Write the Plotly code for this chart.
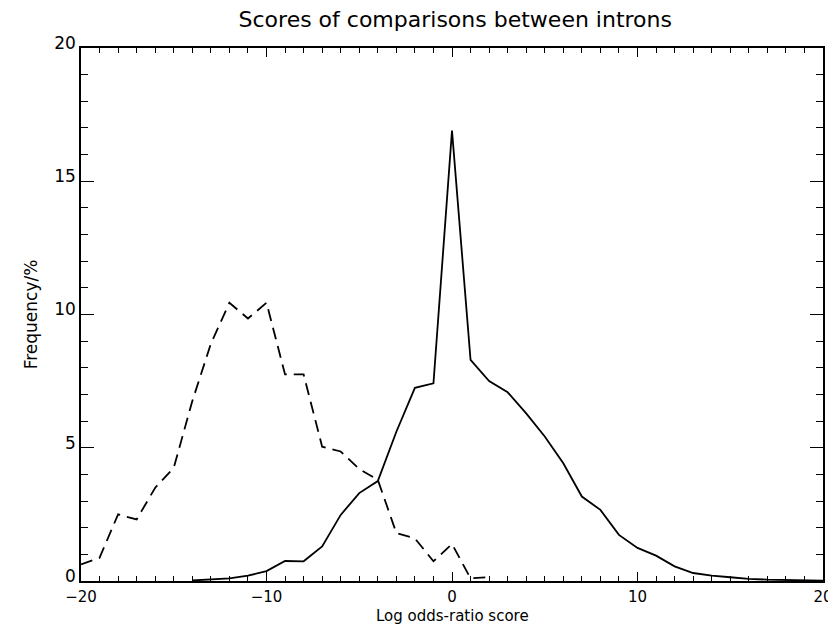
import plotly.graph_objects as go

# Solid curve: comparisons between introns (score -> frequency %)
solid_x = [-14, -13, -12, -11, -10, -9, -8, -7, -6, -5, -4, -3, -2, -1, 0, 1, 2, 3, 4, 5,
           6, 7, 8, 9, 10, 11, 12, 13, 14, 15, 16, 17, 18, 19, 20]
solid_y = [0.02, 0.05, 0.1, 0.2, 0.37, 0.75, 0.74, 1.3, 2.48, 3.3, 3.75, 5.6, 7.25, 7.42, 16.9, 8.3, 7.5, 7.08, 6.29, 5.42,
           4.42, 3.17, 2.67, 1.73, 1.24, 0.95, 0.55, 0.3, 0.2, 0.14, 0.08, 0.05, 0.03, 0.02, 0.01]

# Dashed curve
dash_x = [-20, -19, -18, -17, -16, -15, -14, -13, -12, -11, -10, -9, -8, -7, -6, -5, -4, -3, -2, -1, 0, 1, 2]
dash_y = [0.62, 0.87, 2.5, 2.31, 3.5, 4.25, 6.75, 8.9, 10.44, 9.85, 10.44, 7.75, 7.75, 5.04, 4.86, 4.2, 3.8, 1.8, 1.6, 0.74, 1.39, 0.1, 0.15]

title_text = "Scores of comparisons between introns"
x_title = "Log odds-ratio score"
y_title = "Frequency/%"

FONT = "DejaVu Sans"

fig = go.Figure()
fig.add_trace(go.Scatter(x=dash_x, y=dash_y, mode="lines",
                         line=dict(color="black", width=1.8, dash="12px,7px"),
                         showlegend=False))
fig.add_trace(go.Scatter(x=solid_x, y=solid_y, mode="lines",
                         line=dict(color="black", width=1.8),
                         showlegend=False))

axis_common = dict(showline=True, linecolor="black", linewidth=1.5, mirror="allticks",
                   ticks="inside", tickcolor="black", tickwidth=1.3,
                   showgrid=False, zeroline=False)

fig.update_xaxes(range=[-20, 20], tick0=-20, dtick=10, ticklen=9, ticklabelstandoff=1,
                 tickfont=dict(family=FONT, size=15, color="black"),
                 minor=dict(dtick=1, ticklen=5, ticks="inside", tickcolor="black", tickwidth=1.1),
                 **axis_common)
fig.update_yaxes(range=[0, 20], tick0=0, dtick=5, ticklen=13, ticklabelshift=-5,
                 tickfont=dict(family=FONT, size=17, color="black"),
                 minor=dict(dtick=1, ticklen=7, ticks="inside", tickcolor="black", tickwidth=1.1),
                 title=dict(text=y_title, font=dict(family=FONT, size=17, color="black"), standoff=12),
                 **axis_common)

fig.add_annotation(text=x_title, xref="paper", yref="paper", x=0.5, y=-0.066,
                   xanchor="center", yanchor="middle", showarrow=False,
                   font=dict(family=FONT, size=15, color="black"))

fig.update_layout(
    width=836, height=626,
    margin=dict(l=73, r=11, t=40, b=53),
    paper_bgcolor="white", plot_bgcolor="white",
    title=dict(text=title_text, x=0.535, xanchor="center", y=0.982, yanchor="middle",
               font=dict(family=FONT, size=22, color="black")),
)

fig.write_html("out.html")
